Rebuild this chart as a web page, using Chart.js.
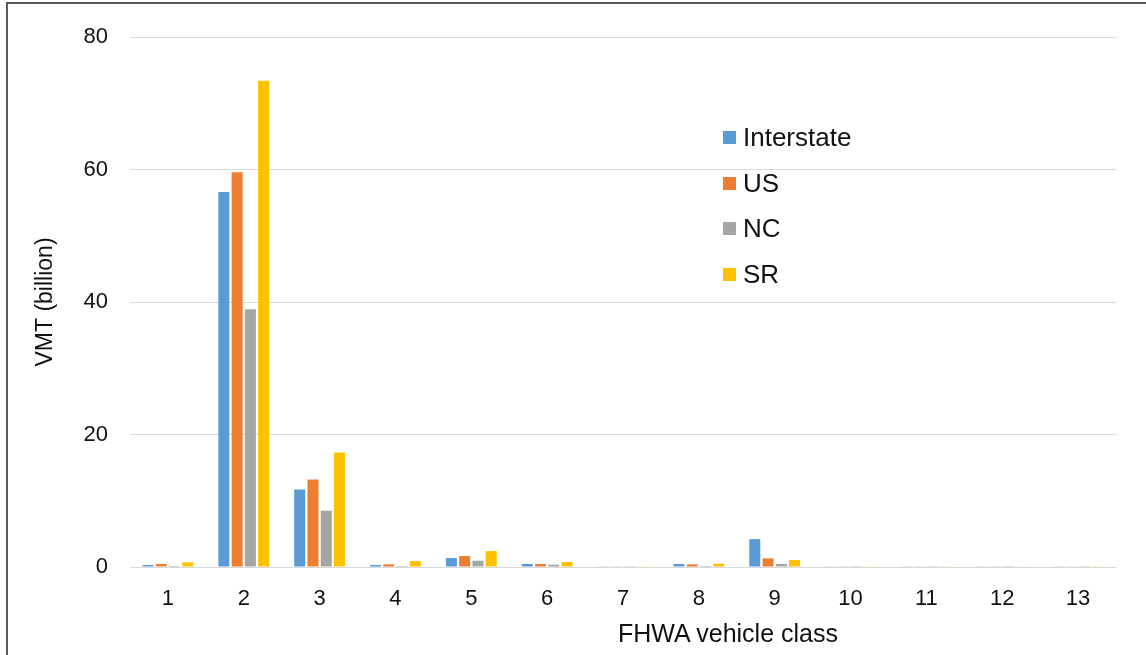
<!DOCTYPE html>
<html>
<head>
<meta charset="utf-8">
<script src="https://cdn.jsdelivr.net/npm/chart.js@4"></script>
<style>
  html, body { margin: 0; padding: 0; background: #fff; }
  #wrap { position: relative; width: 1146px; height: 655px; overflow: hidden; }
  #frame { position: absolute; left: 6px; top: 2px; width: 1200px; height: 700px;
           border-left: 2px solid #595959; border-top: 2px solid #595959; pointer-events: none; }
  #legend { position: absolute; left: 723px; top: 115px; font-family: "Liberation Sans", Arial, sans-serif;
            font-size: 26px; color: #111; }
  #legend div { height: 45.6px; display: flex; align-items: center; }
  #legend span.box { display: inline-block; width: 13px; height: 13px; margin-right: 7px; }
  #xtitle { position: absolute; left: 728px; top: 618px; transform: translateX(-50%); white-space: nowrap;
            font-family: "Liberation Sans", Arial, sans-serif; font-size: 25px; color: #111; line-height: 30px; }
</style>
</head>
<body>
<div id="wrap">
  <canvas id="bars" width="1146" height="655"></canvas>
  <div id="frame"></div>
  <div id="legend"></div>
  <div id="xtitle">FHWA vehicle class</div>
</div>
<script>
// vehicle classes on the x axis
let classes = ['1', '2', '3', '4', '5', '6', '7', '8', '9', '10', '11', '12', '13'];

// VMT (billion) per road system
let interstate = [0.3, 56.6, 11.7, 0.3, 1.35, 0.45, 0.05, 0.45, 4.2, 0.05, 0.05, 0.05, 0.05];
let us         = [0.45, 59.6, 13.2, 0.4, 1.65, 0.45, 0.05, 0.4, 1.3, 0.05, 0.05, 0.05, 0.05];
let nc         = [0.15, 38.9, 8.5, 0.15, 0.95, 0.35, 0.03, 0.15, 0.45, 0.03, 0.03, 0.03, 0.03];
let sr         = [0.7, 73.4, 17.3, 0.9, 2.4, 0.75, 0.05, 0.5, 1.05, 0.05, 0.05, 0.05, 0.05];

let seriesNames = ['Interstate', 'US', 'NC', 'SR'];
let seriesColors = ['#5B9BD5', '#ED7D31', '#A5A5A5', '#FFC000'];
let yTicks = [0, 20, 40, 60, 80];

let font = "'Liberation Sans', Arial, sans-serif";
let allValues = [interstate, us, nc, sr];

let datasets = seriesNames.map(function (name, i) {
    return {
        label: name,
        data: allValues[i],
        backgroundColor: seriesColors[i],
        categoryPercentage: 0.70,
        barPercentage: 0.83
    };
});

// legend sits inside the plot like the original
let legend = document.getElementById('legend');
seriesNames.forEach(function (name, i) {
    let row = document.createElement('div');
    row.innerHTML = '<span class="box" style="background:' + seriesColors[i] + '"></span>' + name;
    legend.appendChild(row);
});

let ctx = document.getElementById('bars').getContext('2d');
let chart = new Chart(ctx, {
    type: 'bar',
    data: { labels: classes, datasets: datasets },
    options: {
        responsive: false,
        animation: false,
        layout: { padding: { left: 27, top: 37, right: 30, bottom: 0 } },
        plugins: { legend: { display: false }, tooltip: { enabled: false } },
        scales: {
            x: {
                grid: { display: false, drawTicks: false },
                border: { display: false },
                ticks: { color: '#111', font: { family: font, size: 22 }, padding: 19 },
                afterFit: function (scale) { scale.height = 88; }
            },
            y: {
                min: 0, max: 80,
                afterBuildTicks: function (scale) {
                    scale.ticks = yTicks.map(function (v) { return { value: v }; });
                },
                grid: { color: '#d9d9d9', lineWidth: 1, drawTicks: false },
                border: { display: false },
                ticks: { color: '#111', font: { family: font, size: 22 }, padding: 22 },
                title: { display: true, text: 'VMT (billion)', color: '#111',
                         font: { family: font, size: 23 }, padding: { top: 5, bottom: 4 } },
                afterFit: function (scale) { scale.width = 103; }
            }
        }
    }
});
</script>
</body>
</html>
